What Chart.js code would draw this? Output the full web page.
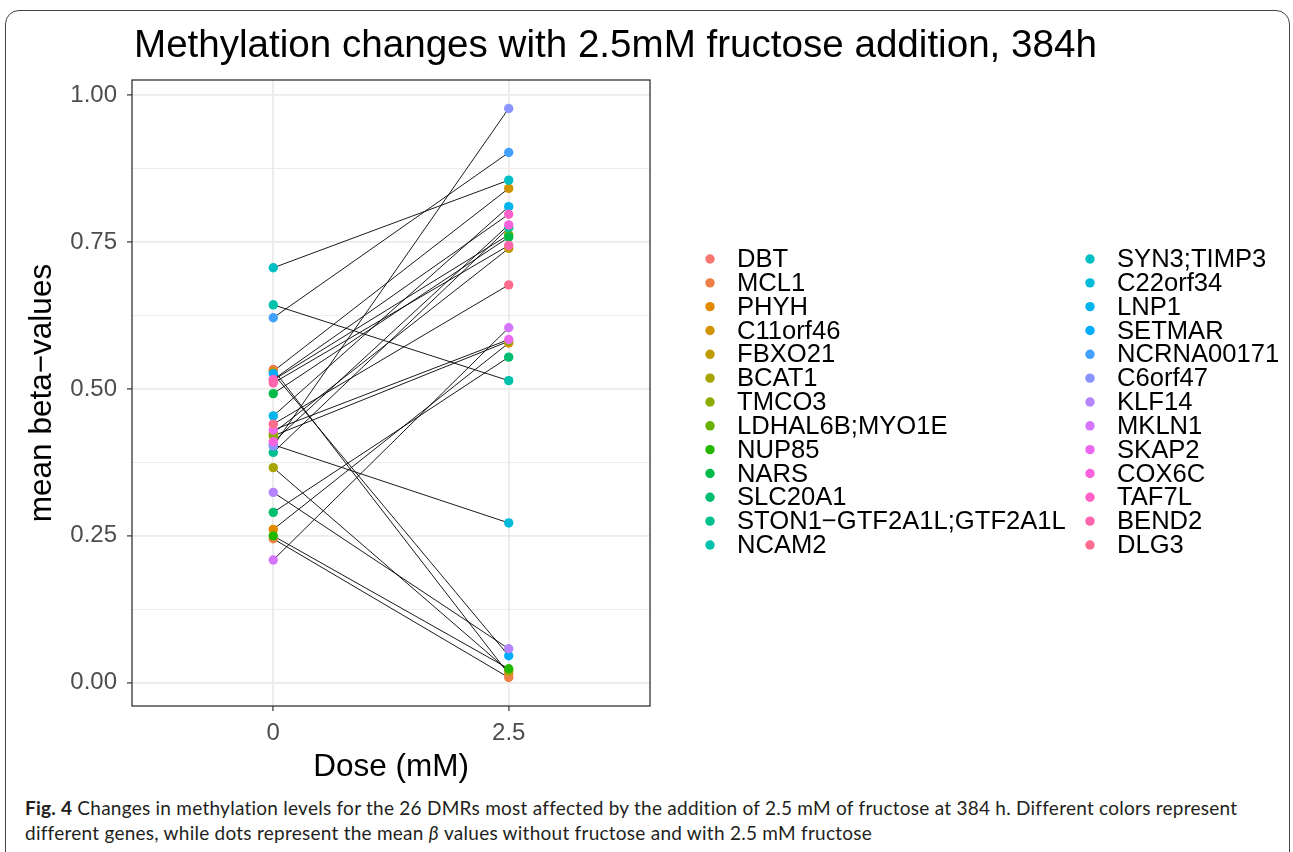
<!DOCTYPE html>
<html><head><meta charset="utf-8">
<script src="https://cdn.jsdelivr.net/npm/chart.js@4.4.1/dist/chart.umd.min.js"></script>
<style>
html,body{margin:0;padding:0;background:#fff;width:1293px;height:852px;overflow:hidden;}
#frame{position:absolute;left:5px;top:10px;width:1285px;height:900px;border:1.5px solid #444;border-radius:14px;box-sizing:border-box;}
#c{position:absolute;left:0;top:0;}
#cap{position:absolute;left:25px;top:795px;font-family:Lato,"Open Sans",sans-serif;font-size:19px;letter-spacing:0.25px;line-height:25px;color:#231f20;white-space:nowrap;}
</style></head><body>
<div id="frame"></div>
<canvas id="c" width="1293" height="790"></canvas>
<div id="cap"><b>Fig. 4</b> Changes in methylation levels for the 26 DMRs most affected by the addition of 2.5 mM of fructose at 384 h. Different colors represent<br>different genes, while dots represent the mean <i>β</i> values without fructose and with 2.5 mM fructose</div>
<script>
const genes = ['DBT','MCL1','PHYH','C11orf46','FBXO21','BCAT1','TMCO3','LDHAL6B;MYO1E','NUP85','NARS','SLC20A1','STON1\u2212GTF2A1L;GTF2A1L','NCAM2','SYN3;TIMP3','C22orf34','LNP1','SETMAR','NCRNA00171','C6orf47','KLF14','MKLN1','SKAP2','COX6C','TAF7L','BEND2','DLG3'];
const doses = ['0','2.5'];
const beta0  = [0.533,0.245,0.261,0.530,0.425,0.366,0.420,0.515,0.250,0.492,0.290,0.392,0.643,0.706,0.405,0.454,0.526,0.621,0.403,0.324,0.209,0.430,0.410,0.516,0.510,0.440];
const beta25 = [0.015,0.009,0.578,0.841,0.739,0.020,0.581,0.762,0.024,0.758,0.554,0.774,0.514,0.855,0.272,0.810,0.046,0.902,0.977,0.058,0.604,0.584,0.779,0.797,0.744,0.677];
const yTickLabels = [0, 0.25, 0.5, 0.75, 1];
const chartTitle = 'Methylation changes with 2.5mM fructose addition, 384h';
const xTitle = 'Dose (mM)';
const yTitle = 'mean beta\u2212values';

const FONT = '"Liberation Sans", Arial, Helvetica, sans-serif';
Chart.defaults.font.family = FONT;

// ggplot2 default hue palette (HCL, c=100, l=65)
function hcl(h, c, l) {
  const hr = h * Math.PI / 180;
  const u = c * Math.cos(hr), v = c * Math.sin(hr);
  const Xn = 95.047, Yn = 100, Zn = 108.883;
  const Y = l > 8 ? Yn * Math.pow((l + 16) / 116, 3) : Yn * l / 903.3;
  const d = Xn + 15 * Yn + 3 * Zn;
  const u0 = 4 * Xn / d, v0 = 9 * Yn / d;
  const up = u / (13 * l) + u0, vp = v / (13 * l) + v0;
  const X = Y * 9 * up / (4 * vp);
  const Z = Y * (12 - 3 * up - 20 * vp) / (4 * vp);
  const x = X / 100, y = Y / 100, z = Z / 100;
  let r = 3.2406 * x - 1.5372 * y - 0.4986 * z;
  let g = -0.9689 * x + 1.8758 * y + 0.0415 * z;
  let b = 0.0557 * x - 0.2040 * y + 1.0570 * z;
  const gam = t => { t = t <= 0.0031308 ? 12.92 * t : 1.055 * Math.pow(t, 1 / 2.4) - 0.055; return Math.round(Math.max(0, Math.min(1, t)) * 255); };
  return 'rgb(' + gam(r) + ',' + gam(g) + ',' + gam(b) + ')';
}
const colors = genes.map((g, i) => hcl(15 + i * 360 / genes.length, 100, 65));

const series = [beta0, beta25];
const datasets = [];
genes.forEach((g, i) => {
  const pts = doses.map((d, k) => ({ x: k + 1, y: series[k][i] }));
  datasets.push({ type: 'line', label: '_line_' + g, data: pts, borderColor: '#000', borderWidth: 0.9,
    pointRadius: 0, fill: false, order: 100 });
  datasets.push({ type: 'scatter', label: g, data: pts, backgroundColor: colors[i], borderColor: colors[i],
    pointRadius: 4.7, pointBorderWidth: 0, order: -i });
});

const isMajor = v => yTickLabels.some(t => Math.abs(t - v) < 1e-9);
const yAllTicks = [];
yTickLabels.forEach((t, k) => {
  yAllTicks.push(t);
  if (k < yTickLabels.length - 1) yAllTicks.push((t + yTickLabels[k + 1]) / 2);
});

const decor = {
  id: 'decor',
  afterDatasetsDraw(chart) {
    const { ctx, chartArea: a } = chart;
    ctx.save();
    ctx.strokeStyle = '#333';
    ctx.lineWidth = 1.3;
    ctx.strokeRect(a.left, a.top, a.right - a.left, a.bottom - a.top);
    ctx.restore();
  },
  afterDraw(chart) {
    const ctx = chart.ctx;
    ctx.save();
    ctx.fillStyle = '#000';
    ctx.font = '38.6px ' + FONT;
    ctx.textBaseline = 'alphabetic';
    ctx.textAlign = 'left';
    ctx.fillText(chartTitle, 134, 57);
    ctx.font = '25.6px ' + FONT;
    ctx.textBaseline = 'middle';
    const perCol = Math.ceil(genes.length / 2);
    genes.forEach((g, i) => {
      const col = Math.floor(i / perCol), row = i % perCol;
      const y = 259 + row * 23.83;
      const dx = col === 0 ? 710 : 1090;
      ctx.beginPath();
      ctx.fillStyle = colors[i];
      ctx.arc(dx, y, 4.7, 0, Math.PI * 2);
      ctx.fill();
      ctx.fillStyle = '#000';
      ctx.fillText(g, dx + 27, y + 1);
    });
    ctx.restore();
  }
};

new Chart(document.getElementById('c'), {
  data: { datasets },
  options: {
    responsive: false, animation: false, devicePixelRatio: 1,
    layout: { padding: { left: 0, top: 80, right: 643, bottom: 0 } },
    plugins: { legend: { display: false }, tooltip: { enabled: false }, title: { display: false } },
    scales: {
      x: {
        type: 'linear', min: 0.4, max: 2.6,
        afterBuildTicks: s => { s.ticks = doses.map((d, k) => ({ value: k + 1 })); },
        afterFit: s => { s.height = 84; },
        ticks: { callback: v => doses[Math.round(v) - 1] ?? '', color: '#4d4d4d', font: { size: 24 }, padding: 8, maxRotation: 0, autoSkip: false },
        grid: { color: '#ebebeb', lineWidth: 1.8, tickColor: '#333', tickLength: 5, tickWidth: 1.2 },
        border: { display: false },
        title: { display: true, text: xTitle, color: '#000', font: { size: 31.5 }, padding: { top: 0, bottom: 4 } }
      },
      y: {
        type: 'linear', min: -0.0394, max: 1.0254,
        afterBuildTicks: s => { s.ticks = yAllTicks.map(v => ({ value: v })); },
        afterFit: s => { s.width = 132; },
        ticks: { callback: v => isMajor(v) ? v.toFixed(2) : '', color: '#4d4d4d', font: { size: 24 }, padding: 10, autoSkip: false },
        grid: {
          color: '#ebebeb',
          lineWidth: c => (c.tick && isMajor(c.tick.value)) ? 1.8 : 0.9,
          tickColor: c => (c.tick && isMajor(c.tick.value)) ? '#333' : 'rgba(0,0,0,0)',
          tickLength: 5, tickWidth: 1.2
        },
        border: { display: false },
        title: { display: true, text: yTitle, color: '#000', font: { size: 31.5 }, padding: { top: 23, bottom: 0 } }
      }
    }
  },
  plugins: [decor]
});
</script>
</body></html>
